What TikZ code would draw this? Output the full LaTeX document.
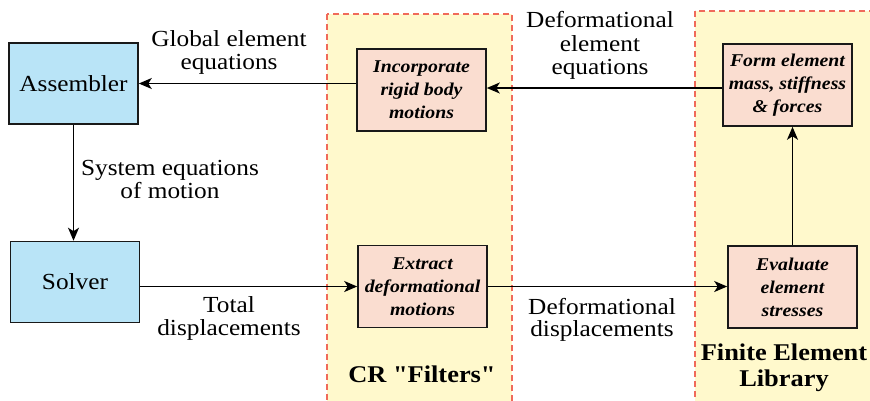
\documentclass[tikz,border=0pt]{standalone}
\usepackage{fontspec}
\setmainfont{Liberation Serif}[FakeStretch=1.1,Ligatures=TeXOff]
\usetikzlibrary{arrows.meta}
\definecolor{boxblue}{RGB}{185,228,247}
\definecolor{boxpink}{RGB}{250,221,208}
\definecolor{zoneyellow}{RGB}{255,249,204}
\definecolor{zonered}{RGB}{240,106,90}
\begin{document}
\begin{tikzpicture}[x=1pt,y=-1pt,
 bluebox/.style={draw=black!90, line width=1.6pt, fill=boxblue, minimum width=129pt, minimum height=81pt, inner sep=0pt, font=\fontsize{23}{22}\selectfont},
 pinkbox/.style={draw=black!90, line width=1.6pt, fill=boxpink, minimum width=129pt, minimum height=82pt, inner sep=0pt, align=center, font=\fontsize{18}{23}\selectfont\bfseries\itshape},
 zone/.style={draw=zonered, fill=zoneyellow, line width=1.4pt, dash pattern=on 6pt off 4pt},
 lbl/.style={align=center, inner sep=0pt, font=\fontsize{23}{22.5}\selectfont},
 zlbl/.style={align=center, inner sep=0pt, font=\fontsize{24}{26}\selectfont\bfseries},
 arr/.style={-{Stealth[length=13pt,width=11pt,inset=3.5pt]}, line width=1.6pt}
]
\useasboundingbox (0,0) rectangle (870,400);
\path[zone] (327,14) rectangle (512,405);
\path[zone] (695,11) rectangle (876,405);

\node[bluebox] (asm) at (73.5,83.5) {Assembler};
\node[bluebox] (sol) at (75,282) {Solver};
\node[pinkbox] (inc) at (421.5,90) {Incorporate\\rigid body\\motions};
\node[pinkbox] (ext) at (422.5,286.5) {Extract\\deformational\\motions};
\node[pinkbox] (form) at (787.5,85) {Form element\\mass, stiffness\\\& forces};
\node[pinkbox] (eval) at (792.5,287) {Evaluate\\element\\stresses};

\draw[arr] (asm.south) -- (asm.south |- sol.north);
\draw[arr] (inc.west |- asm.east) -- (asm.east);
\draw[arr] ([yshift=-3pt]form.west) -- ([yshift=-3pt]form.west -| inc.east);
\draw[arr] (eval.north) -- (eval.north |- form.south);
\draw[arr] (sol.east |- ext.west) -- (ext.west);
\draw[arr] (ext.east) -- (ext.east -| eval.west);

\node[lbl] (lglob) at (229,52.5) {Global element\\equations};
\node[lbl] (lsys) at (170,179.5) {System equations\\of motion};
\node[lbl] (ltot) at (229,318.5) {Total\\displacements};
\node[lbl, font=\fontsize{23}{23.5}\selectfont] (ldefeq) at (600,45.5) {Deformational\\element\\equations};
\node[lbl] (ldefdisp) at (602,320) {Deformational\\displacements};
\node[zlbl] (lcr) at (422,374) {CR "Filters"};
\node[zlbl] (lfe) at (784,368) {Finite Element\\Library};
\end{tikzpicture}
\end{document}
